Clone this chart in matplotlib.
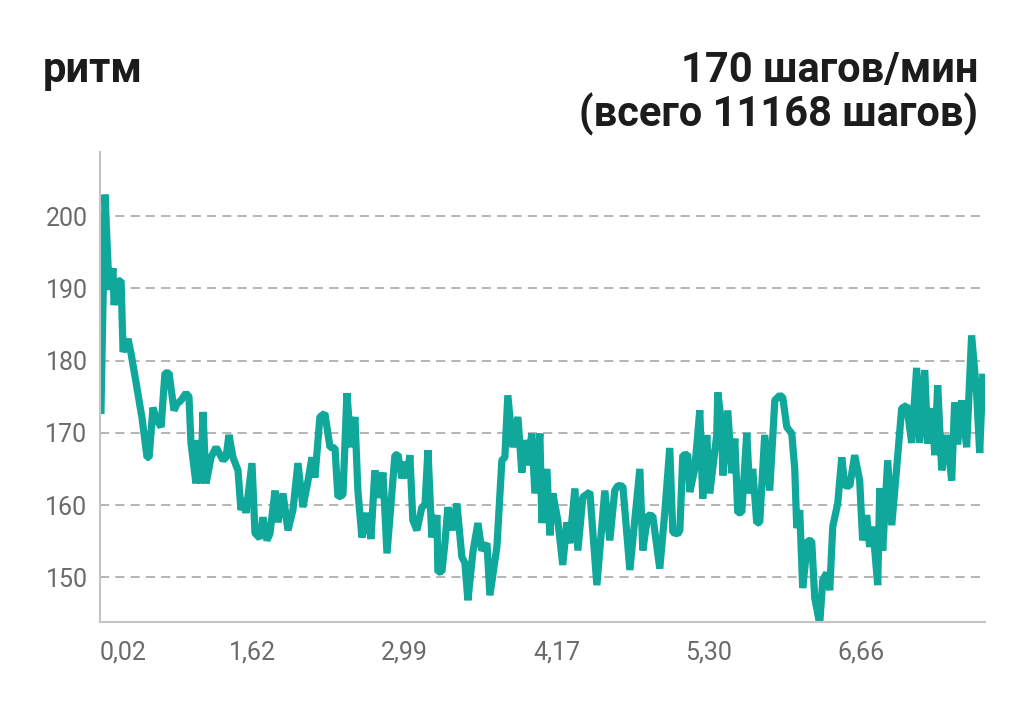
import matplotlib
matplotlib.use("Agg")
import matplotlib.pyplot as plt

plt.rcParams['font.family'] = ['Roboto', 'DejaVu Sans']

# elapsed time (min) and cadence (steps/min)
minutes = [0.07, 0.37, 0.67, 0.96, 1.04, 1.34, 1.56, 1.71, 2.08, 2.30, 2.67, 3.12,
           3.49, 3.64, 3.93, 4.15, 4.53, 4.82, 5.12, 5.49, 5.71, 6.01, 6.38, 6.60,
           6.75, 7.12, 7.27, 7.49, 7.64, 7.87, 8.24, 8.61, 9.13, 9.35, 9.57, 9.87,
           10.24, 10.46, 10.68, 10.83,
           11.28, 11.50, 11.87, 12.09, 12.39, 12.61, 12.99, 13.21, 13.58, 13.95,
           14.32, 14.69, 15.06, 15.44, 15.73, 15.95, 16.32, 16.69, 17.07, 17.44,
           17.66, 18.03, 18.33, 18.62, 18.92, 19.14, 19.44, 19.81, 20.11, 20.40,
           20.70, 21.00, 21.30,
           21.89, 22.11, 22.41, 22.63, 22.78, 23.00, 23.22, 23.52, 23.89, 24.12,
           24.34, 24.63, 25.01, 25.08, 25.38, 25.60, 25.82, 26.12, 26.49, 26.86,
           27.08, 27.31, 27.68, 28.05, 28.34, 28.72, 28.94, 29.46, 29.83, 30.05,
           30.27, 30.64, 31.02, 31.31, 31.54, 31.76, 32.05, 32.28, 32.65, 32.80,
           33.17, 33.39, 33.61, 33.98, 34.35, 34.65, 34.87, 35.25, 35.47, 35.84,
           36.36, 36.88, 37.47, 37.84, 38.21, 38.44, 38.81, 39.33, 40.07, 40.29,
           40.66, 41.03, 41.55, 41.92, 42.29, 42.52, 42.89,
           43.04, 43.26, 43.63, 43.78, 44.15, 44.52, 44.74, 45.04, 45.26, 45.78,
           45.86, 46.15, 46.23, 46.60, 46.89, 47.12, 47.34, 47.64, 48.01, 48.23,
           48.45, 48.75, 48.97, 49.34, 49.71, 50.09, 50.46, 50.68, 50.98, 51.35,
           51.57, 51.72, 51.94, 52.16, 52.53, 52.83, 53.05, 53.42, 53.65, 53.94,
           54.17, 54.39, 54.76, 55.06, 55.28, 55.65, 56.02, 56.39, 56.61, 56.91,
           57.13, 57.36, 57.73, 57.88, 58.10, 58.47, 58.77, 59.14, 59.51, 59.88,
           60.25, 60.62, 60.84, 61.22, 61.44, 61.81, 61.96, 62.18, 62.48, 62.85,
           63.22, 63.44, 63.66, 63.96, 64.33, 64.70, 65.07, 65.30, 65.52]

cadence = [173.1, 203.0, 189.8, 192.8, 187.7, 191.0, 191.1, 181.2, 183.0, 181.0, 177.0, 172.0,
           166.6, 166.6, 173.5, 172.0, 170.8, 178.3, 178.3, 173.1, 174.0, 174.5, 175.5, 175.0,
           168.6, 163.0, 169.0, 163.0, 172.9, 163.0, 166.6, 168.0, 166.2, 166.6, 169.7, 166.6,
           164.8, 159.3, 160.9, 158.9,
           165.8, 156.1, 155.4, 158.3, 155.1, 156.0, 162.0, 157.6, 161.6, 156.5,
           159.3, 165.8, 159.7, 163.4, 166.6, 163.8, 172.2, 172.7, 168.0, 167.9,
           161.1, 161.4, 175.5, 168.0, 172.2, 162.0, 155.5, 158.9, 155.3, 164.8,
           161.0, 164.5, 153.3,
           166.9, 167.0, 163.7, 166.0, 163.7, 166.9, 157.9, 156.5, 159.7, 160.0,
           167.6, 155.5, 158.6, 150.7, 150.8, 154.7, 159.7, 156.5, 160.2, 152.8,
           152.0, 146.8, 153.5, 157.5, 153.7, 154.7, 147.5, 154.2, 166.2, 166.6,
           175.2, 168.0, 172.2, 164.5, 169.0, 165.5, 169.9, 161.6, 169.9, 157.5,
           165.0, 155.8, 161.6, 157.9, 151.7, 157.6, 154.7, 162.3, 153.7, 161.1,
           161.8, 148.9, 162.0, 155.1, 162.0, 162.7, 162.6, 151.0, 165.0, 153.7,
           158.6, 158.5, 151.2, 158.9, 167.9, 156.2, 156.0,
           156.5, 166.9, 167.0, 161.8, 165.0, 173.1, 160.9, 169.7, 161.6, 169.7,
           175.6, 171.0, 164.1, 173.1, 164.4, 169.2, 158.9, 159.0, 170.0, 161.6,
           165.0, 157.5, 157.6, 169.7, 162.0, 174.5, 175.2, 174.9, 170.8, 169.9,
           165.0, 156.8, 159.3, 148.5, 155.1, 155.0, 147.2, 143.5, 149.6, 150.6,
           148.2, 157.0, 160.2, 166.6, 162.7, 162.6, 166.9, 163.4, 155.1, 158.6,
           154.2, 157.0, 148.9, 162.3, 153.7, 166.2, 157.2, 165.2, 173.4, 173.8,
           168.6, 179.0, 168.6, 178.7, 168.5, 173.4, 166.9, 176.6, 164.8, 169.7,
           163.4, 174.2, 168.4, 174.5, 168.0, 183.5, 175.5, 167.2, 177.7]

# x ticks: elapsed minutes and the distance (km) shown there
tick_minutes = [0.0, 11.28, 22.56, 33.91, 45.19, 56.47]
tick_km = ["0,02", "1,62", "2,99", "4,17", "5,30", "6,66"]
y_ticks = [150, 160, 170, 180, 190, 200]

fig = plt.figure(figsize=(10.24, 7.26), dpi=100)
ax = fig.add_axes([0.0977, 0.1433, 0.8643, 0.6473])

ax.plot(minutes, cadence, color="#11a89c", lw=5.2, solid_joinstyle="bevel")

ax.set_xlim(0, 65.7)
ax.set_ylim(143.8, 208.9)
ax.set_yticks(y_ticks)
ax.set_xticks(tick_minutes)
ax.set_xticklabels(tick_km)
ax.get_xticklabels()[0].set_horizontalalignment("left")

ax.grid(axis="y", color="#a0a0a0", linestyle=(0, (6, 4)), linewidth=1.1)
ax.set_axisbelow(True)
for s in ["top", "right"]:
    ax.spines[s].set_visible(False)
for s in ["left", "bottom"]:
    ax.spines[s].set_color("#c4c4c4")
    ax.spines[s].set_linewidth(1.5)
ax.tick_params(length=0, labelsize=18, labelcolor="#6b6b6b")
ax.tick_params(axis="y", pad=9)
ax.tick_params(axis="x", pad=13)

fig.text(0.042, 0.887, "ритм", fontsize=30, fontweight="bold", color="#1c1c1c", va="baseline")
fig.text(0.955, 0.887, "170 шагов/мин", fontsize=30, fontweight="bold", color="#1c1c1c",
         ha="right", va="baseline")
fig.text(0.955, 0.826, "(всего 11168 шагов)", fontsize=30, fontweight="bold", color="#1c1c1c",
         ha="right", va="baseline")

fig.savefig("out.png", dpi=100)
